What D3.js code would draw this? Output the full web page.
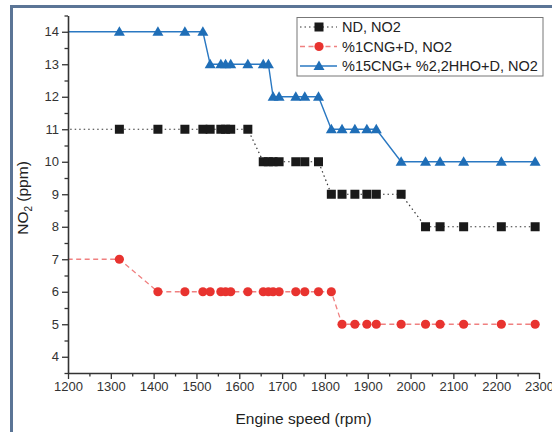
<!DOCTYPE html>
<html><head><meta charset="utf-8">
<script src="https://cdn.jsdelivr.net/npm/d3@7"></script>
<style>body{margin:0;background:#fff}svg{display:block}text{font-family:"Liberation Sans",Arial,sans-serif}</style>
</head><body><svg id="c" width="552" height="432"></svg>
<script>
const rpm = [1100,1320,1410,1473,1515,1532,1557,1568,1580,1620,1656,1668,1679,1693,1732,1753,1785,1815,1840,1870,1898,1920,1978,2035,2069,2124,2212,2291];
const nd = [11,11,11,11,11,11,11,11,11,11,10,10,10,10,10,10,10,9,9,9,9,9,9,8,8,8,8,8];
const cng1 = [7,7,6,6,6,6,6,6,6,6,6,6,6,6,6,6,6,6,5,5,5,5,5,5,5,5,5,5];
const cng15 = [14,14,14,14,14,13,13,13,13,13,13,13,12,12,12,12,12,11,11,11,11,11,10,10,10,10,10,10];
const seriesNames = ["ND, NO2","%1CNG+D, NO2","%15CNG+ %2,2HHO+D, NO2"];
const xTicks = [1200,1300,1400,1500,1600,1700,1800,1900,2000,2100,2200,2300];
const yTicks = [4,5,6,7,8,9,10,11,12,13,14];

const svg = d3.select("#c");
const x = d3.scaleLinear().domain([1200,2300]).range([68,539]);
const y = d3.scaleLinear().domain([3.5,14.5]).range([373,15.5]);

// frame
svg.append("rect").attr("x",11.5).attr("y",6.5).attr("width",700).attr("height",600)
  .attr("fill","none").attr("stroke","#5b7596").attr("stroke-width",3);

svg.append("clipPath").attr("id","clip").append("rect")
  .attr("x",68).attr("y",8).attr("width",480).attr("height",370);

const series = [
  {vals:nd, color:"#1a1a1a", line:"#333", dash:"1.5,3", lw:1.2, sym:"square"},
  {vals:cng1, color:"#e8332f", line:"#f08080", dash:"5,3.5", lw:1.3, sym:"circle"},
  {vals:cng15, color:"#1f6eb7", line:"#2a78c2", dash:null, lw:1.4, sym:"triangle"}
];
function marker(g, s, cx, cy){
  if(s.sym==="square") g.append("rect").attr("x",cx-4.5).attr("y",cy-4.5).attr("width",9).attr("height",9).attr("fill",s.color);
  else if(s.sym==="circle") g.append("circle").attr("cx",cx).attr("cy",cy).attr("r",4.6).attr("fill",s.color);
  else g.append("path").attr("d",`M${cx},${cy-5.5}L${cx+5.5},${cy+4}L${cx-5.5},${cy+4}Z`).attr("fill",s.color);
}
const plot = svg.append("g").attr("clip-path","url(#clip)");
series.forEach(s=>{
  const pts = rpm.map((r,i)=>[r,s.vals[i]]);
  plot.append("path").attr("d",d3.line().x(d=>x(d[0])).y(d=>y(d[1]))(pts))
    .attr("fill","none").attr("stroke",s.line).attr("stroke-width",s.lw)
    .attr("stroke-dasharray",s.dash);
});
series.forEach(s=>{
  const g = plot.append("g");
  rpm.forEach((r,i)=>{ if(r>=1200) marker(g,s,x(r),y(s.vals[i])); });
});

// axes
const ax = svg.append("g").attr("transform","translate(0,373)");
ax.call(d3.axisBottom(x).tickValues(d3.range(1250,2300,100)).tickSize(3.5).tickFormat(""));
ax.call(g=>g.select(".domain").remove());
const ax2 = svg.append("g").attr("transform","translate(0,373)");
ax2.call(d3.axisBottom(x).tickValues(xTicks).tickSize(6).tickSizeOuter(0).tickPadding(3).tickFormat(d3.format("d")));
const ay = svg.append("g").attr("transform","translate(68,0)");
ay.call(d3.axisLeft(y).tickValues(d3.range(3.5,14.6,1)).tickSize(3.5).tickFormat(""));
ay.call(g=>g.select(".domain").remove());
const ay2 = svg.append("g").attr("transform","translate(68,0)");
ay2.call(d3.axisLeft(y).tickValues(yTicks).tickSize(6).tickSizeOuter(0).tickPadding(3));
[ax,ax2,ay,ay2].forEach(g=>{
  g.selectAll("line").attr("stroke","#333").attr("stroke-width",1.3);
  g.selectAll(".domain").attr("stroke","#333").attr("stroke-width",1.6);
  g.selectAll("text").attr("font-size",13).attr("fill","#333").attr("font-family","Liberation Sans, Arial, sans-serif");
});

// titles
svg.append("text").attr("x",303.5).attr("y",424).attr("text-anchor","middle")
  .attr("font-size",15.5).attr("fill","#222").text("Engine speed (rpm)");
const yt = svg.append("text").attr("transform","translate(28,198) rotate(-90)").attr("text-anchor","middle")
  .attr("font-size",15.5).attr("fill","#222");
yt.append("tspan").text("NO");
yt.append("tspan").attr("font-size",10).attr("dy",4).text("2");
yt.append("tspan").attr("dy",-4).text(" (ppm)");

// legend
const lg = svg.append("g");
lg.append("rect").attr("x",297).attr("y",17.5).attr("width",246).attr("height",58.5)
  .attr("fill","#fff").attr("stroke","#777").attr("stroke-width",1);
series.forEach((s,i)=>{
  const cy = 27 + i*19.5;
  lg.append("line").attr("x1",300).attr("x2",337).attr("y1",cy).attr("y2",cy)
    .attr("stroke",s.line).attr("stroke-width",s.lw).attr("stroke-dasharray",s.dash);
  marker(lg,s,319,cy);
  lg.append("text").attr("x",342).attr("y",cy+5).attr("font-size",14.5).attr("fill","#222").text(seriesNames[i]);
});
</script></body></html>
